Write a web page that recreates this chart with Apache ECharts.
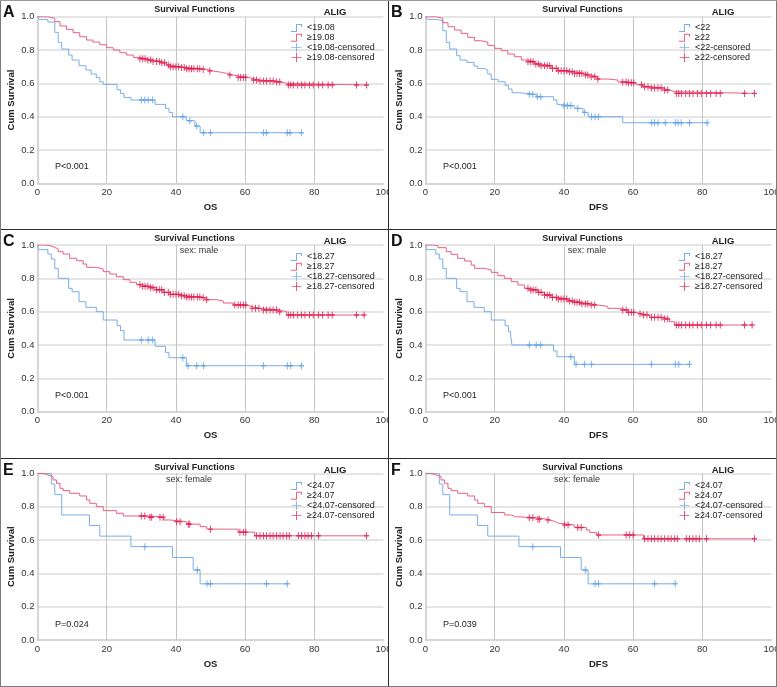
<!DOCTYPE html>
<html><head><meta charset="utf-8">
<script src="https://cdn.jsdelivr.net/npm/echarts@6/dist/echarts.min.js"></script>
<style>
html,body{margin:0;padding:0;background:#fff;}
#wrap{position:relative;width:777px;height:687px;overflow:hidden;background:#fff;}
.p{position:absolute;}
.ln{position:absolute;}
</style></head><body>
<div id="wrap">
  <div class="p" id="pA" style="left:0;top:0;width:388px;height:229px"></div>
  <div class="p" id="pB" style="left:388px;top:0;width:389px;height:229px"></div>
  <div class="p" id="pC" style="left:0;top:229px;width:388px;height:229px"></div>
  <div class="p" id="pD" style="left:388px;top:229px;width:389px;height:229px"></div>
  <div class="p" id="pE" style="left:0;top:458px;width:388px;height:229px"></div>
  <div class="p" id="pF" style="left:388px;top:458px;width:389px;height:229px"></div>
  <div class="ln" style="left:388px;top:0;width:1px;height:687px;background:#2a2a2a"></div>
  <div class="ln" style="left:0;top:229px;width:777px;height:1px;background:#2a2a2a"></div>
  <div class="ln" style="left:0;top:458px;width:777px;height:1px;background:#2a2a2a"></div>
  <div class="ln" style="left:0;top:0;width:1px;height:687px;background:#7a7a7a"></div>
  <div class="ln" style="left:776px;top:0;width:1px;height:687px;background:#7a7a7a"></div>
  <div class="ln" style="left:0;top:686px;width:777px;height:1px;background:#7a7a7a"></div>
  <div class="ln" style="left:0;top:0;width:777px;height:1px;background:#9a9a9a"></div>
</div>
<script>
// ---------------- DATA (time in months, cumulative survival) ----------------
const xTicks = [0, 20, 40, 60, 80, 100];
const yTicks = [0, 0.2, 0.4, 0.6, 0.8, 1.0];

// Panel A: OS, ALIG cut 19.08
const A_low_t = [0, 0.5, 3, 5, 6, 7, 9, 10, 12, 14, 15.5, 17, 18, 19, 23, 24, 25, 27, 34, 37, 38, 39, 43, 45.5, 47];
const A_low_s = [1.0, 0.984, 0.968, 0.906, 0.846, 0.806, 0.77, 0.74, 0.706, 0.68, 0.656, 0.636, 0.61, 0.594, 0.562, 0.54, 0.516, 0.50, 0.474, 0.45, 0.426, 0.40, 0.376, 0.344, 0.304];
const A_low_c = [30, 31, 32, 33.3, 42, 44, 46, 48, 50, 65.3, 66.2, 72.2, 73, 76.3];
const A_high_t = [0, 3, 5, 6.5, 8.4, 10.3, 12.2, 14.2, 16, 18, 20, 21.9, 23.8, 25.7, 27.7, 29.6, 31.5, 33.4, 35.4, 37.3, 38.3, 41.2, 43, 47, 48.9, 50.8, 52.7, 54.6, 56.6, 58, 60.9, 62.4, 64.3, 69, 70.5, 72];
const A_high_s = [1.0, 0.99, 0.97, 0.944, 0.924, 0.904, 0.88, 0.86, 0.848, 0.832, 0.814, 0.80, 0.784, 0.77, 0.756, 0.748, 0.74, 0.732, 0.724, 0.71, 0.70, 0.696, 0.688, 0.684, 0.674, 0.668, 0.66, 0.65, 0.644, 0.636, 0.628, 0.62, 0.614, 0.608, 0.60, 0.59];
const A_high_c = [29.6, 30.4, 31.1, 31.9, 32.7, 33.4, 34.4, 35.2, 35.9, 36.7, 37.8, 38.4, 39.2, 40, 40.8, 41.6, 42.4, 43.1, 43.8, 44.5, 45.2, 46.2, 46.9, 47.9, 49.8, 55.6, 58, 58.7, 59.5, 60.2, 62.4, 63.3, 64.3, 65.3, 66.2, 67.2, 68.1, 69.1, 70, 72.5, 73.2, 74, 75.2, 76.3, 77.3, 78.6, 79.7, 81.2, 82.4, 84, 85.2, 92.2, 95.1];

// Panel B: DFS, ALIG cut 22
const B_low_t = [0, 0.5, 3, 5, 6, 7, 9, 10, 12, 14, 15, 17, 18, 19, 21, 23, 24, 25, 27, 32, 37, 38, 39, 43, 45.5, 47, 57];
const B_low_s = [1.0, 0.984, 0.976, 0.916, 0.846, 0.806, 0.766, 0.74, 0.726, 0.704, 0.69, 0.68, 0.656, 0.624, 0.61, 0.588, 0.566, 0.544, 0.534, 0.52, 0.50, 0.474, 0.466, 0.45, 0.426, 0.40, 0.364];
const B_low_c = [30, 31, 32.3, 33.3, 40, 41, 42, 44, 46, 48, 49, 50, 65.3, 66.2, 67.2, 69.3, 72.2, 73, 73.9, 76.3, 81.4];
const B_high_t = [0, 3, 5, 6.5, 8.4, 10.3, 12.2, 14.2, 16, 18, 20, 21.9, 23.8, 25.7, 27.7, 29.6, 31.5, 33.4, 36.3, 38.3, 41.2, 43, 46, 47.9, 49.8, 52.7, 55.6, 58.5, 60.9, 62.8, 64.8, 69.1, 70.5, 72];
const B_high_s = [1.0, 0.99, 0.964, 0.94, 0.92, 0.90, 0.876, 0.856, 0.848, 0.828, 0.81, 0.796, 0.776, 0.76, 0.74, 0.73, 0.716, 0.706, 0.69, 0.676, 0.67, 0.66, 0.65, 0.64, 0.626, 0.62, 0.608, 0.604, 0.592, 0.58, 0.572, 0.56, 0.55, 0.54];
const B_high_c = [29.6, 30.4, 31.1, 31.9, 32.7, 33.4, 34.4, 35.2, 35.9, 36.7, 37.8, 38.4, 39.2, 40, 40.8, 41.6, 42.4, 43.1, 43.8, 44.5, 45.2, 46.2, 46.9, 47.9, 48.9, 49.8, 57, 58, 58.7, 59.5, 60.2, 62.4, 63.3, 64.3, 65.3, 66.2, 67.2, 68.1, 69.1, 70, 72.5, 73.2, 74, 75.2, 76.3, 77.3, 78.6, 79.7, 81.2, 82.4, 84, 85.2, 92.2, 95.1];

// Panel C: OS, male, ALIG cut 18.27
const C_low_t = [0, 0.3, 3, 4, 5, 6, 9, 10, 12, 14, 17, 19, 23, 24, 25, 34, 37, 38, 43];
const C_low_s = [1.0, 0.972, 0.946, 0.916, 0.86, 0.80, 0.74, 0.72, 0.66, 0.626, 0.60, 0.55, 0.516, 0.486, 0.43, 0.392, 0.356, 0.324, 0.276];
const C_low_c = [30, 32, 33.3, 42, 43.5, 46, 48, 65.3, 72.2, 73.2, 76.3];
const C_high_t = [0, 2, 3.6, 5, 6, 7.4, 9.3, 11.3, 13.2, 14.2, 17, 19, 20.9, 22.8, 24.8, 26.7, 28.6, 30, 32.5, 34.4, 36.3, 38.3, 41.2, 43, 47, 48.9, 51.8, 53.7, 56.6, 60.4, 61.9, 64.3, 70, 72];
const C_high_s = [1.0, 0.996, 0.986, 0.976, 0.96, 0.946, 0.92, 0.906, 0.886, 0.866, 0.856, 0.84, 0.826, 0.81, 0.792, 0.776, 0.762, 0.752, 0.744, 0.732, 0.716, 0.704, 0.696, 0.688, 0.684, 0.672, 0.664, 0.652, 0.64, 0.63, 0.62, 0.61, 0.60, 0.58];
const C_high_c = [29.6, 30.4, 31.1, 31.9, 32.7, 33.4, 34.4, 35.2, 35.9, 36.7, 37.8, 38.4, 39.2, 40, 40.8, 41.6, 42.4, 43.1, 43.8, 44.5, 45.2, 46.2, 46.9, 47.9, 48.9, 57, 58, 58.7, 59.5, 60.2, 62, 63, 64, 65.3, 66.2, 67.2, 68.1, 69.1, 70, 72.5, 73.2, 74, 75.2, 76.3, 77.3, 78.6, 79.7, 81.2, 82.4, 84, 85.2, 92.2, 94.4];

// Panel D: DFS, male, ALIG cut 18.27
const D_low_t = [0, 0.3, 3, 4, 5, 6, 9, 10, 12, 14, 17, 19, 23, 24, 24.6, 25, 37, 38, 43];
const D_low_s = [1.0, 0.972, 0.946, 0.916, 0.86, 0.80, 0.74, 0.72, 0.66, 0.626, 0.60, 0.55, 0.516, 0.48, 0.456, 0.40, 0.364, 0.33, 0.284];
const D_low_c = [30, 32, 33.3, 42, 43.5, 46, 48, 65.3, 72.2, 73.2, 76.3];
const D_high_t = [0, 2, 3.6, 6, 7.4, 9.3, 11.3, 13.2, 14.2, 17, 19, 20.9, 22.8, 24.8, 26.7, 28.6, 30, 32.5, 34.4, 36.3, 38.3, 41.2, 43, 45, 47.9, 49.8, 52.7, 55.6, 58.5, 60.9, 62.4, 64.8, 69.1, 70.5, 72];
const D_high_s = [1.0, 0.996, 0.984, 0.96, 0.944, 0.92, 0.904, 0.88, 0.86, 0.85, 0.836, 0.816, 0.80, 0.78, 0.76, 0.74, 0.73, 0.716, 0.70, 0.686, 0.676, 0.664, 0.656, 0.648, 0.64, 0.632, 0.62, 0.61, 0.596, 0.588, 0.58, 0.566, 0.556, 0.54, 0.52];
const D_high_c = [29.6, 30.4, 31.1, 31.9, 32.7, 33.4, 34.4, 35.2, 35.9, 36.7, 37.8, 38.4, 39.2, 40, 40.8, 41.6, 42.4, 43.1, 43.8, 44.5, 45.2, 46.2, 46.9, 47.9, 48.9, 57, 58, 58.7, 59.5, 60.2, 62, 63, 64, 65.3, 66.2, 67.2, 68.1, 69.1, 70, 72.5, 73.2, 74, 75.2, 76.3, 77.3, 78.6, 79.7, 81.2, 82.4, 84, 85.2, 92.2, 94.4];

// Panel E: OS, female, ALIG cut 24.07
const E_low_t = [0, 4, 5, 7, 15, 18, 27, 39, 45, 47];
const E_low_s = [1.0, 0.936, 0.872, 0.75, 0.687, 0.623, 0.56, 0.495, 0.42, 0.337];
const E_low_c = [31, 46.2, 49, 50, 66.2, 72.2];
const E_high_t = [0, 1.6, 3, 4.5, 5.5, 6.5, 7.4, 9.3, 12.2, 14.2, 15.1, 17, 19, 22.8, 24.8, 32, 36.5, 38.3, 43, 47, 48.9, 58, 62.8];
const E_high_s = [1.0, 0.99, 0.98, 0.96, 0.94, 0.91, 0.896, 0.88, 0.864, 0.84, 0.82, 0.80, 0.776, 0.76, 0.744, 0.736, 0.72, 0.71, 0.695, 0.68, 0.665, 0.647, 0.625];
const E_high_c = [30, 31, 32.5, 33, 35.4, 36.3, 40.2, 41.2, 43.6, 44, 50, 58.5, 59.5, 60.2, 63.3, 64.3, 65.3, 66.2, 67.2, 68.1, 69.1, 70.1, 71, 72, 72.8, 75.4, 76.3, 77.3, 78.2, 79.2, 81.2, 95.1];

// Panel F: DFS, female, ALIG cut 24.07
const F_low_t = [0, 4, 5, 7, 15, 18, 27, 39, 45, 47];
const F_low_s = [1.0, 0.936, 0.872, 0.75, 0.687, 0.623, 0.56, 0.495, 0.42, 0.337];
const F_low_c = [31, 46.2, 49, 50, 66.2, 72.2];
const F_high_t = [0, 1.6, 3, 4.5, 5.5, 6.5, 7.4, 9.3, 12.2, 14.2, 15.1, 17, 19, 22.8, 24.8, 26, 32, 35, 36, 37.5, 38.5, 43, 46.5, 47.5, 49.5, 63];
const F_high_s = [1.0, 0.99, 0.98, 0.96, 0.94, 0.91, 0.896, 0.88, 0.864, 0.84, 0.82, 0.80, 0.765, 0.75, 0.74, 0.733, 0.725, 0.72, 0.71, 0.70, 0.69, 0.675, 0.66, 0.645, 0.63, 0.607];
const F_high_c = [30, 31, 32.5, 33, 35.4, 40.2, 41.2, 44, 45, 50, 58, 59, 60, 63.3, 64.3, 65.3, 66.2, 67.2, 68.1, 69.1, 70.1, 71, 72, 72.8, 75.4, 76.3, 77.3, 78.2, 79.2, 81.2, 95.1];

// Labels
const panelLetters = ['A', 'B', 'C', 'D', 'E', 'F'];
const lowLabels  = ['<19.08', '<22', '<18.27', '<18.27', '<24.07', '<24.07'];
const highLabels = ['≥19.08', '≥22', '≥18.27', '≥18.27', '≥24.07', '≥24.07'];
const xNames = ['OS', 'DFS', 'OS', 'DFS', 'OS', 'DFS'];
const subLabels = ['', '', 'sex: male', 'sex: male', 'sex: female', 'sex: female'];
const pTexts = ['P<0.001', 'P<0.001', 'P<0.001', 'P<0.001', 'P=0.024', 'P=0.039'];
const titleText = 'Survival Functions';
const legendTitle = 'ALIG';
const yName = 'Cum Survival';

// ---------------- RENDERING ----------------
const FONT = '"Liberation Sans", Arial, sans-serif';
const BLUE_LINE = '#79aee8', BLUE_MARK = '#5f9fe6';
const RED_LINE = '#ec5f80', RED_MARK = '#e0164a';
const PLUS = 'path://M4,0H6V4H10V6H6V10H4V6H0V4H4Z';
const STEP_ICON = 'path://M0,8H5V1H11V4H10V2H6V9H0Z';
const CENS_ICON = 'path://M0,4.5H5V0H6V4.5H11V5.5H6V10H5V5.5H0Z';
const subX = [194.5, 194.5, 199, 199, 189, 189];

function stepLine(t, s, c) {
  const d = t.map((x, i) => [x, s[i]]);
  const last = Math.max.apply(null, c);
  if (last > t[t.length - 1]) d.push([last, s[s.length - 1]]);
  return d;
}
function survAt(t, s, x) {
  let v = s[0];
  for (let i = 0; i < t.length; i++) if (t[i] <= x) v = s[i];
  return v;
}

const panels = [
  [A_low_t, A_low_s, A_low_c, A_high_t, A_high_s, A_high_c],
  [B_low_t, B_low_s, B_low_c, B_high_t, B_high_s, B_high_c],
  [C_low_t, C_low_s, C_low_c, C_high_t, C_high_s, C_high_c],
  [D_low_t, D_low_s, D_low_c, D_high_t, D_high_s, D_high_c],
  [E_low_t, E_low_s, E_low_c, E_high_t, E_high_s, E_high_c],
  [F_low_t, F_low_s, F_low_c, F_high_t, F_high_s, F_high_c]
];
const gridTops = [16.7, 16.7, 16, 16, 15.3, 15.3];

function txt(text, x, y, font, align, color) {
  return {
    type: 'text', x: x, y: y, silent: true, z: 10,
    style: { text: text, font: font, fill: color || '#222',
      align: align || 'left', verticalAlign: 'middle',
      textAlign: align || 'left', textVerticalAlign: 'middle' }
  };
}

panels.forEach(function (p, i) {
  const [lt, ls, lc, ht, hs, hc] = p;
  const el = document.getElementById('p' + panelLetters[i]);
  const chart = echarts.init(el, null, { renderer: 'canvas' });
  const lowC = lowLabels[i] + '-censored', highC = highLabels[i] + '-censored';
  const graphics = [
    txt(panelLetters[i], 3, 13, 'bold 16px ' + FONT, 'left', '#111'),
    txt(titleText, 194.5, 10, 'bold 9px ' + FONT, 'center', '#222'),
    txt(legendTitle, 335, 12.5, 'bold 9.5px ' + FONT, 'center', '#222'),
    txt(pTexts[i], 55, 167, '9px ' + FONT, 'left', '#222')
  ];
  if (subLabels[i]) graphics.push(txt(subLabels[i], subX[i], 22, '9px ' + FONT, 'center', '#333'));
  chart.setOption({
    animation: false,
    textStyle: { fontFamily: FONT },
    grid: { left: 37.5, top: gridTops[i], width: 346, height: 166.7, containLabel: false, outerBoundsMode: 'none' },
    xAxis: {
      type: 'value', min: xTicks[0], max: xTicks[xTicks.length - 1], interval: 20,
      name: xNames[i], nameLocation: 'middle', nameGap: 19, nameMoveOverlap: false,
      nameTextStyle: { fontWeight: 'bold', fontSize: 9.5, color: '#222' },
      axisLine: { lineStyle: { color: '#c9c9c9', width: 1.5 } },
      axisTick: { show: false },
      axisLabel: { fontSize: 9.5, color: '#333', margin: 4 },
      splitLine: { show: true, showMinLine: false, showMaxLine: false, lineStyle: { color: '#c4c4c4', width: 1 } }
    },
    yAxis: {
      type: 'value', min: yTicks[0], max: yTicks[yTicks.length - 1], interval: 0.2,
      name: yName, nameLocation: 'middle', nameGap: 21, nameRotate: 90, nameMoveOverlap: false,
      nameTextStyle: { fontWeight: 'bold', fontSize: 9.5, color: '#222' },
      axisLine: { show: true, lineStyle: { color: '#c9c9c9', width: 1.5 } },
      axisTick: { show: false },
      axisLabel: { fontSize: 9.5, color: '#333', margin: 3, formatter: v => v.toFixed(1) },
      splitLine: { show: true, showMinLine: false, lineStyle: { color: '#dcdcdc', width: 1.5 } }
    },
    legend: {
      left: 291, top: 23.5, orient: 'vertical', itemWidth: 11, itemHeight: 9, itemGap: 0.8,
      padding: 0, selectedMode: false,
      textStyle: { fontSize: 9, color: '#222' },
      data: [
        { name: lowLabels[i], icon: STEP_ICON },
        { name: highLabels[i], icon: STEP_ICON },
        { name: lowC, icon: CENS_ICON },
        { name: highC, icon: CENS_ICON }
      ]
    },
    graphic: graphics,
    series: [
      { name: lowLabels[i], type: 'line', step: 'end', data: stepLine(lt, ls, lc), showSymbol: false, symbol: 'none',
        color: BLUE_LINE, lineStyle: { color: BLUE_LINE, width: 1 }, silent: true, z: 3 },
      { name: highLabels[i], type: 'line', step: 'end', data: stepLine(ht, hs, hc), showSymbol: false, symbol: 'none',
        color: RED_LINE, lineStyle: { color: RED_LINE, width: 1 }, silent: true, z: 4 },
      { name: lowC, type: 'scatter', symbol: PLUS, symbolSize: [5, 7], symbolKeepAspect: false,
        data: lc.map(c => [c, survAt(lt, ls, c)]), itemStyle: { color: BLUE_MARK }, color: BLUE_MARK, silent: true, z: 5 },
      { name: highC, type: 'scatter', symbol: PLUS, symbolSize: [5, 7], symbolKeepAspect: false,
        data: hc.map(c => [c, survAt(ht, hs, c)]), itemStyle: { color: RED_MARK }, color: RED_MARK, silent: true, z: 6 }
    ]
  });
});
</script>
</body></html>
